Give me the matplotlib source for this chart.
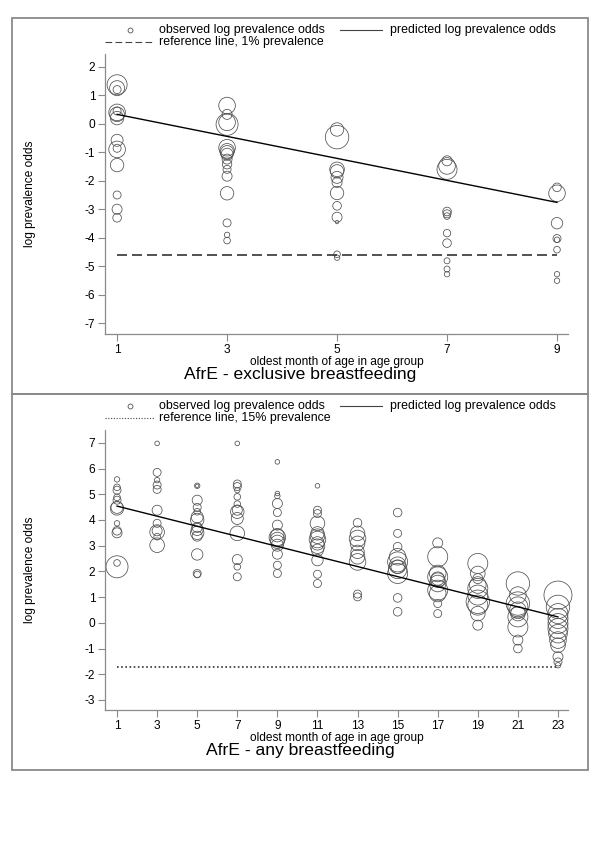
import numpy as np
import matplotlib
matplotlib.use('Agg')
import matplotlib.pyplot as plt
from matplotlib.lines import Line2D
from matplotlib.patches import Rectangle

plt.rcParams['font.family'] = ['Liberation Sans', 'DejaVu Sans']

#========================= Data: exclusive breastfeeding ======================
# wt = relative bubble weight (bubble radius grows with wt)
ex_month = [1]*14 + [3]*16 + [5]*12 + [7]*11 + [9]*8
ex_logodds = [1.37, 1.25, 1.2, 0.4, 0.33, 0.2, 0.45, -0.58, -0.9, -0.86, -1.45, -2.5, -3.0, -3.3,
              0.64, 0.33, -0.02, 0.05, -0.84, -0.95, -1.0, -1.07, -1.24, -1.42, -1.6, -1.84, -2.44, -3.48, -3.9, -4.1,
              -0.2, -0.47, -1.6, -1.67, -1.88, -2.06, -2.43, -2.88, -3.28, -3.45, -4.58, -4.7,
              -1.3, -1.48, -1.6, -3.08, -3.16, -3.24, -3.84, -4.19, -4.81, -5.1, -5.28,
              -2.23, -2.44, -3.49, -4.03, -4.07, -4.42, -5.28, -5.51]
ex_wt = [10, 7.5, 4, 8.3, 7.3, 6.7, 4, 6, 8.3, 4, 6.7, 4, 5, 4.3,
         8.3, 5, 11, 8.3, 8.3, 7.3, 6.7, 6, 5, 4.7, 4, 5, 6.7, 4, 2.7, 3.3,
         6.7, 11.7, 7.3, 6.7, 6, 5, 6.7, 4.3, 5, 1.7, 3.3, 2.7,
         5, 8.3, 10, 4.3, 4, 3.3, 3.7, 4.3, 3, 3, 2.7,
         4.3, 8.3, 5.7, 4, 2.7, 3.3, 2.7, 2.7]
ex_pred_month = [1, 9]
ex_pred = [0.33, -2.76]
ex_ref_prev = 0.01
ex_xticks = [1, 3, 5, 7, 9]
ex_yticks = list(range(-7, 3))

#========================= Data: any breastfeeding ============================
any_month = [1]*12 + [3]*11 + [5]*14 + [7]*13 + [9]*14 + [11]*13 + [13]*9 + \
            [15]*11 + [17]*11 + [19]*10 + [21]*10 + [23]*12
any_logodds = [5.58, 5.27, 5.16, 4.88, 4.77, 4.49, 4.45, 3.87, 3.58, 3.5, 2.33, 2.18,
               6.98, 5.85, 5.55, 5.36, 5.19, 4.38, 3.87, 3.58, 3.53, 3.35, 3.02,
               5.33, 5.33, 4.77, 4.49, 4.32, 4.12, 4.0, 3.71, 3.63, 3.5, 3.37, 2.66, 1.92, 1.88,
               6.98, 5.4, 5.3, 5.16, 4.9, 4.62, 4.38, 4.32, 4.06, 3.48, 2.46, 2.18, 1.79,
               6.26, 5.03, 4.93, 4.64, 4.29, 3.8, 3.41, 3.32, 3.24, 3.15, 3.02, 2.67, 2.24, 1.92,
               5.33, 4.38, 4.25, 3.87, 3.48, 3.37, 3.24, 3.09, 2.98, 2.83, 2.44, 1.89, 1.53,
               3.89, 3.48, 3.28, 3.09, 2.76, 2.57, 2.37, 1.12, 1.01,
               4.29, 3.48, 2.96, 2.57, 2.37, 2.24, 2.18, 2.08, 1.92, 0.97, 0.43,
               3.11, 2.57, 1.92, 1.79, 1.72, 1.66, 1.53, 1.27, 1.14, 0.75, 0.36,
               2.31, 1.92, 1.72, 1.47, 1.34, 1.08, 0.82, 0.69, 0.36, -0.09,
               1.53, 1.08, 0.75, 0.62, 0.49, 0.36, 0.23, -0.16, -0.67, -1.0,
               1.08, 0.62, 0.36, 0.17, -0.03, -0.22, -0.42, -0.67, -0.87, -1.32, -1.52, -1.65]
any_wt = [2.7, 3.3, 4, 3.3, 4, 6, 6.7, 2.7, 4.3, 5, 3.3, 11,
          2.3, 4, 2.7, 4, 4, 5, 4, 5, 7.3, 3.3, 7.3,
          2.7, 1.7, 5, 4, 3.3, 6, 6.7, 5, 6, 6.7, 5, 5.7, 4, 3.3,
          2.3, 4, 4, 2.7, 3.3, 3.3, 5, 6.7, 6, 7.3, 5, 3.3, 4,
          2.3, 2.3, 2.7, 5, 4, 5, 6.7, 8.3, 7.3, 6.7, 6, 5, 4, 4,
          2.3, 4, 4, 7.3, 6.7, 7.3, 8.3, 6.7, 7.3, 6, 5.7, 4, 4,
          4.3, 7.3, 8.3, 7.3, 6.7, 7.3, 8.3, 4, 4,
          4.3, 4, 4.3, 8.3, 10, 8.3, 6.7, 9.3, 10, 4.3, 4.3,
          5, 10, 8.3, 10, 6.7, 7.3, 8.3, 10, 8.3, 4, 4,
          10, 7.3, 5, 8.3, 10, 10, 11.7, 10, 7.3, 5,
          11.7, 8.3, 11.7, 10, 8.3, 7.3, 10, 10, 5, 4.3,
          14, 11.7, 10, 10, 10, 10, 9.3, 8.3, 7.3, 5, 4, 2.7]
any_pred_month = [1, 23]
any_pred = [4.54, 0.23]
any_ref_prev = 0.15
any_xticks = list(range(1, 24, 2))
any_yticks = list(range(-3, 8))

#========================= Plot ===============================================
W, H = 600, 849
FS = 8.6      # axis text
LFS = 8.9     # legend text
fig = plt.figure(figsize=(W/100, H/100), dpi=100)

def fx(px):
    return px / W

def fy(px):
    return 1 - px / H

def panel(box_top, months, logodds, wt, pred_m, pred, ref_prev, ref_ls,
          xticks, xlim, yticks, ylim, ref_label, title):
    # outer frame of the panel
    fig.add_artist(Rectangle((fx(12), fy(box_top + 376)), fx(576), 376 / H,
                             transform=fig.transFigure, fill=False,
                             edgecolor='#8a8a8a', lw=1.3))
    ax = fig.add_axes([fx(105), fy(box_top + 316), fx(463), 280 / H])
    s = (np.array(wt) * 1.44) ** 2
    ax.scatter(months, logodds, s=s, facecolors='none', edgecolors='#505050',
               linewidths=0.55, clip_on=False)
    ax.plot(pred_m, pred, color='black', lw=1.0)
    ref = np.log(ref_prev / (1 - ref_prev))
    ax.plot([xticks[0], xticks[-1]], [ref, ref], color='#333333', lw=1.2,
            linestyle=ref_ls)
    ax.set_xlim(xlim)
    ax.set_ylim(ylim)
    ax.set_xticks(xticks)
    ax.set_yticks(yticks)
    ax.set_yticklabels([str(v) for v in yticks])
    for sp in ['top', 'right']:
        ax.spines[sp].set_visible(False)
    for sp in ['left', 'bottom']:
        ax.spines[sp].set_color('#8a8a8a')
        ax.spines[sp].set_linewidth(0.9)
    ax.tick_params(colors='#8a8a8a', labelcolor='black', labelsize=FS,
                   length=5, width=0.8, pad=2)
    ax.set_xlabel('oldest month of age in age group', fontsize=FS, labelpad=0)
    ax.set_ylabel('log prevalence odds', fontsize=FS)
    ax.yaxis.set_label_coords(-0.148, 0.5)
    fig.text(0.5, fy(box_top + 357), title, ha='center', va='center',
             fontsize=12.6)

    # legend
    r1, r2 = fy(box_top + 12), fy(box_top + 24)
    fig.add_artist(Line2D([fx(130)], [r1], marker='o', ms=3.5, mfc='none',
                          mec='#505050', mew=0.6, transform=fig.transFigure))
    fig.text(fx(159), r1, 'observed log prevalence odds', va='center', fontsize=LFS)
    fig.add_artist(Line2D([fx(340), fx(382)], [r1, r1], color='#444444', lw=0.8,
                          transform=fig.transFigure))
    fig.text(fx(390), r1, 'predicted log prevalence odds', va='center', fontsize=LFS)
    fig.add_artist(Line2D([fx(105), fx(155)], [r2, r2], color='#444444', lw=0.8,
                          linestyle=ref_ls, transform=fig.transFigure))
    fig.text(fx(159), r2, ref_label, va='center', fontsize=LFS)
    return ax

panel(18, ex_month, ex_logodds, ex_wt, ex_pred_month, ex_pred, ex_ref_prev,
      (0, (6, 3)), ex_xticks, (0.78, 9.2), ex_yticks, (-7.38, 2.45),
      'reference line, 1% prevalence', 'AfrE - exclusive breastfeeding')

panel(394, any_month, any_logodds, any_wt, any_pred_month, any_pred, any_ref_prev,
      (0, (1, 1.5)), any_xticks, (0.4, 23.5), any_yticks, (-3.39, 7.5),
      'reference line, 15% prevalence', 'AfrE - any breastfeeding')

plt.savefig('out.png', dpi=100)
